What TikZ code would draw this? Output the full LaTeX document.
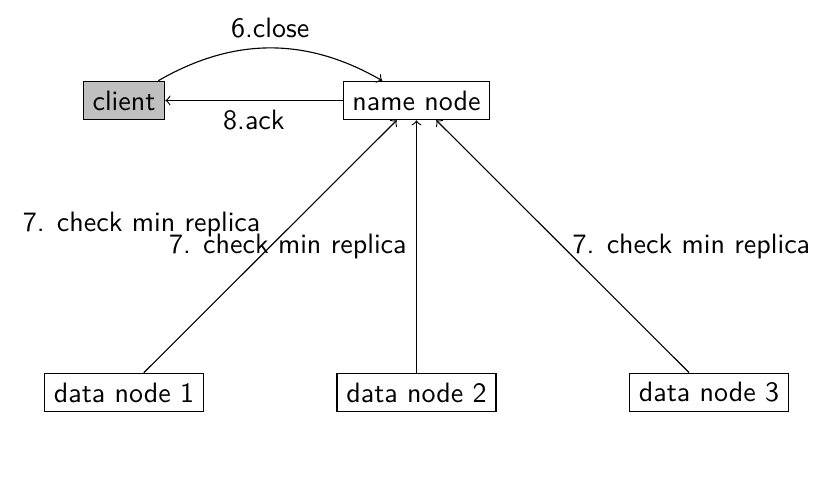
\documentclass[tikz,border=0pt]{standalone}
\begin{document}
\begin{tikzpicture}[x=0.357pt,y=-0.357pt,
  every node/.style={font=\sffamily},
  box/.style={draw},
  conn/.style={->}]
\useasboundingbox (0,0) rectangle (827,479);
\node[box,fill=gray!50] (client) at (124,100.5) {client};
\node[box] (name) at (416.5,100.5) {name node};
\node[box] (d1) at (124,392.5) {data node 1};
\node[box] (d2) at (416.5,392.5) {data node 2};
\node[box] (d3) at (709,392.5) {data node 3};
\draw[conn] (client) to[bend left] node[above] {6.close} (name);
\draw[conn] (name) -- node[below] {8.ack} (client);
\draw[conn] (d1) -- node[above left] {7. check min replica} (name);
\draw[conn] (d2) -- node[left] {7. check min replica} (name);
\draw[conn] (d3) -- node[right] {7. check min replica} (name);
\end{tikzpicture}
\end{document}
